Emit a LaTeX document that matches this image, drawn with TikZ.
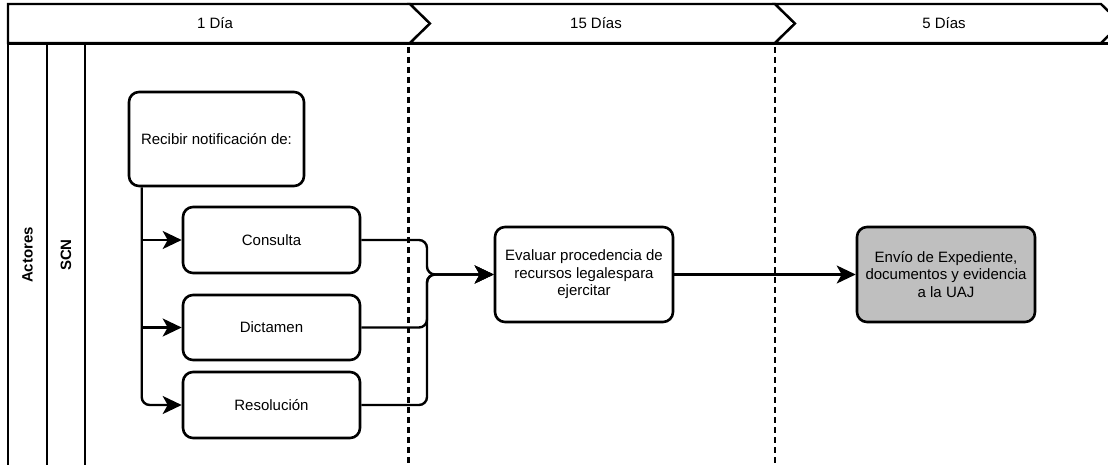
\documentclass[tikz,border=0pt]{standalone}
\usepackage{fontspec}
\setmainfont{Liberation Sans}
\usetikzlibrary{arrows.meta,calc}
\begin{document}
\begin{tikzpicture}[x=1pt,y=-1pt,
  hdr/.style={draw=black, line width=2.4pt, fill=white, line join=miter},
  hdrtext/.style={font=\fontsize{15pt}{17.5pt}\selectfont, inner sep=0pt},
  lane/.style={draw=black, line width=2.2pt},
  vdash/.style={draw=black, line width=2.2pt, dash pattern=on 6pt off 4pt},
  box/.style={draw=black, line width=2.6pt, rounded corners=10pt, fill=white, align=center,
    inner sep=2pt, font=\fontsize{15pt}{17.5pt}\selectfont},
  lanetext/.style={font=\fontsize{15pt}{17.5pt}\selectfont\bfseries, rotate=90, inner sep=0pt},
  conn/.style={draw=black, line width=2.4pt, rounded corners=8pt,
    -{Stealth[length=19pt,width=18pt,inset=5pt]}}
]
\useasboundingbox (0,0) rectangle (1108,465);
\clip (0,0) rectangle (1108,465);

% header chevrons
\draw[hdr] (8,4) -- (410,4) -- (430,23.5) -- (410,43) -- (8,43) -- cycle;
\draw[hdr] (410,4) -- (775,4) -- (795,23.5) -- (775,43) -- (410,43) -- (430,23.5) -- cycle;
\draw[hdr] (775,4) -- (1101,4) -- (1121,23.5) -- (1101,43) -- (775,43) -- (795,23.5) -- cycle;
\node[hdrtext] (h1) at (215,23.5) {1 Día};
\node[hdrtext] (h2) at (596,23.5) {15 Días};
\node[hdrtext] (h3) at (944,23.5) {5 Días};

% pool and lanes
\draw[lane] (8,43) -- (8,470);
\draw[lane] (47,43) -- (47,470);
\draw[lane] (85,43) -- (85,470);
\draw[draw=black, line width=3.8pt] (7,43.5) -- (1110,43.5);
\node[lanetext] (actores) at (27.5,255) {Actores};
\node[lanetext] (scn) at (66,255) {SCN};

% phase separators
\draw[vdash] (408.5,47) -- (408.5,470);
\draw[vdash] (775,47) -- (775,470);

% nodes
\node[box, minimum width=175pt, minimum height=94pt] (recibir) at (216.5,139) {Recibir notificación de:};
\node[box, minimum width=177pt, minimum height=66pt] (consulta) at (271.5,240) {Consulta};
\node[box, minimum width=177pt, minimum height=65pt] (dictamen) at (271.5,327.5) {Dictamen};
\node[box, minimum width=177pt, minimum height=66pt] (resolucion) at (271.5,405) {Resolución};
\node[box, minimum width=178pt, minimum height=95pt] (evaluar) at (584,274.5) {Evaluar procedencia de\\recursos legalespara\\ejercitar};
\node[box, minimum width=178pt, minimum height=95pt, fill=gray!50] (envio) at (946,274.5) {Envío de Expediente,\\documentos y evidencia\\a la UAJ};

% connectors
\coordinate (sp) at ([xshift=14pt]recibir.south west);
\draw[conn] (sp) |- (resolucion.west);
\draw[conn] (sp |- consulta.west) -- (consulta.west);
\draw[conn] (sp |- dictamen.west) -- (dictamen.west);

\coordinate (jx) at (427,0);
\draw[conn] (consulta.east) -- (consulta.east -| jx) -- (jx |- evaluar.west) -- (evaluar.west);
\draw[conn] (dictamen.east) -- (dictamen.east -| jx) -- (jx |- evaluar.west) -- (evaluar.west);
\draw[conn] (resolucion.east) -- (resolucion.east -| jx) -- (jx |- evaluar.west) -- (evaluar.west);

\draw[conn] (evaluar.east) -- (envio.west);
\end{tikzpicture}
\end{document}
